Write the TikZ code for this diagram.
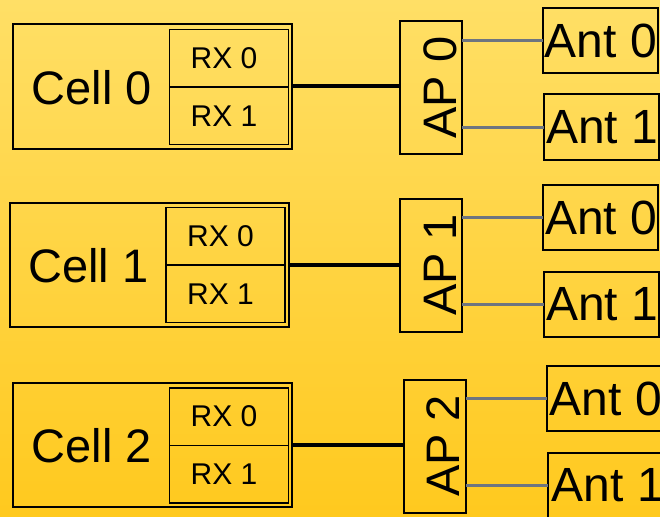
\documentclass[tikz,border=0pt]{standalone}
\usepackage{fontspec}
\setmainfont{Liberation Sans}
\definecolor{bgtop}{HTML}{FFDF66}
\definecolor{bgmid}{HTML}{FFD545}
\definecolor{bgbot}{HTML}{FFC91E}
\definecolor{feedgray}{HTML}{6E7580}
\begin{document}
\begin{tikzpicture}[x=1pt,y=-1pt,
  boxline/.style={draw=black,line width=2pt,inner sep=0pt,outer sep=0pt},
  cellbox/.style={boxline,minimum width=279pt,minimum height=124pt},
  rxbox/.style={draw=black,line width=1.6pt,inner sep=0pt,outer sep=0pt,minimum width=119pt,minimum height=115pt},
  apbox/.style={boxline,minimum width=62pt,minimum height=133pt},
  antbox/.style={boxline,minimum width=115pt,minimum height=65pt},
  celltext/.style={inner sep=0pt,font=\fontsize{47}{47}\selectfont},
  rxtext/.style={inner sep=0pt,font=\fontsize{30}{30}\selectfont},
  aptext/.style={inner sep=0pt,rotate=90,font=\fontsize{47}{47}\selectfont},
  anttext/.style={inner sep=0pt,anchor=west,font=\fontsize{48}{48}\selectfont},
  link/.style={line width=4pt},
  feed/.style={line width=3pt,draw=feedgray}]
  \useasboundingbox (0,0) rectangle (660,516);
  \clip (0,0) rectangle (660,516);
  % background
  \shade[top color=bgtop,middle color=bgmid,bottom color=bgbot] (0,0) rectangle (660,516);

  % ---- row 0 ----
  \node[cellbox] (cell0) at (152.5,86.5) {};
  \node[rxbox] (rx0) at (229,87) {};
  \draw[line width=1.6pt] (rx0.west) -- (rx0.east);
  \node[celltext] (cell0t) at (92,88) {Cell 0};
  \node[rxtext] (rx0a) at (224,58.5) {RX 0};
  \node[rxtext] (rx0b) at (224,116.5) {RX 1};
  \node[apbox] (ap0) at (430.5,87.5) {};
  \node[aptext] (ap0t) at (440,87.5) {AP 0};
  \node[antbox] (ant00) at (600,40.5) {};
  \node[antbox] (ant01) at (601.5,127) {};
  \node[anttext] (ant00t) at ([xshift=2pt]ant00.west) {Ant 0};
  \node[anttext] (ant01t) at ([xshift=2pt]ant01.west) {Ant 1};
  \draw[link] (cell0.east) -- (cell0.east -| ap0.west);
  \draw[feed] (ap0.east |- ant00.west) -- (ant00.west);
  \draw[feed] (ap0.east |- ant01.west) -- (ant01.west);

  % ---- row 1 ----
  \node[cellbox] (cell1) at (149,264.5) {};
  \node[rxbox] (rx1) at (225.5,265) {};
  \draw[line width=1.6pt] (rx1.west) -- (rx1.east);
  \node[celltext] (cell1t) at (88.5,266) {Cell 1};
  \node[rxtext] (rx1a) at (220.5,236) {RX 0};
  \node[rxtext] (rx1b) at (220.5,294) {RX 1};
  \node[apbox] (ap1) at (431,265) {};
  \node[aptext] (ap1t) at (440,265) {AP 1};
  \node[antbox] (ant10) at (600.5,217.5) {};
  \node[antbox] (ant11) at (601.5,304.5) {};
  \node[anttext] (ant10t) at ([xshift=2pt]ant10.west) {Ant 0};
  \node[anttext] (ant11t) at ([xshift=2pt]ant11.west) {Ant 1};
  \draw[link] (cell1.east) -- (cell1.east -| ap1.west);
  \draw[feed] (ap1.east |- ant10.west) -- (ant10.west);
  \draw[feed] (ap1.east |- ant11.west) -- (ant11.west);

  % ---- row 2 ----
  \node[cellbox] (cell2) at (152.5,445) {};
  \node[rxbox] (rx2) at (229,445.5) {};
  \draw[line width=1.6pt] (rx2.west) -- (rx2.east);
  \node[celltext] (cell2t) at (92,446) {Cell 2};
  \node[rxtext] (rx2a) at (224,416.5) {RX 0};
  \node[rxtext] (rx2b) at (224,474.5) {RX 1};
  \node[apbox] (ap2) at (434.5,446) {};
  \node[aptext] (ap2t) at (443,446) {AP 2};
  \node[antbox] (ant20) at (604,398.5) {};
  \node[antbox] (ant21) at (605,485) {};
  \node[anttext] (ant20t) at ([xshift=3pt]ant20.west) {Ant 0};
  \node[anttext] (ant21t) at ([xshift=4pt]ant21.west) {Ant 1};
  \draw[link] (cell2.east) -- (cell2.east -| ap2.west);
  \draw[feed] (ap2.east |- ant20.west) -- (ant20.west);
  \draw[feed] (ap2.east |- ant21.west) -- (ant21.west);
\end{tikzpicture}
\end{document}
